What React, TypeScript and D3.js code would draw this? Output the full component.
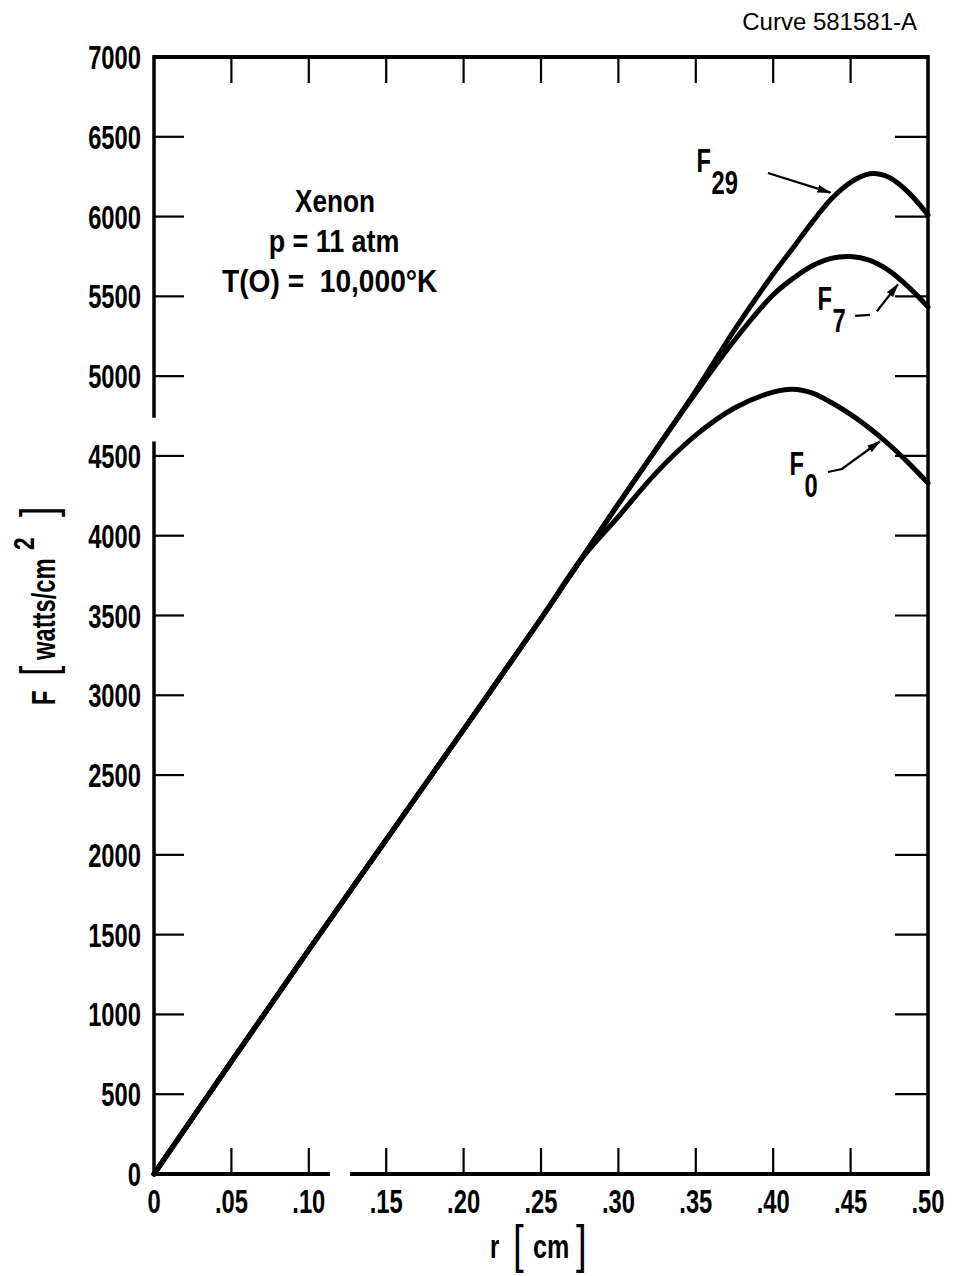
import React from "react";
import * as d3 from "d3";

// ---- data ----
const rShared = [0, 0.05, 0.1, 0.15, 0.2, 0.25, 0.275];
const FShared = [0, 705, 1405, 2095, 2785, 3480, 3840];

const rTail = [0.3, 0.325, 0.35, 0.375, 0.4, 0.4125, 0.425, 0.4375, 0.45, 0.4625, 0.475, 0.4875, 0.5];
const F0Tail = [4120, 4400, 4630, 4800, 4900, 4918, 4895, 4835, 4760, 4672, 4570, 4455, 4330];
const F7Tail = [4200, 4550, 4895, 5225, 5510, 5610, 5690, 5738, 5750, 5725, 5660, 5558, 5434];
const F29Tail = [4200, 4552, 4908, 5290, 5640, 5800, 5962, 6110, 6215, 6268, 6245, 6150, 6010];

const yTickValues = [0, 500, 1000, 1500, 2000, 2500, 3000, 3500, 4000, 4500, 5000, 5500, 6000, 6500, 7000];
const xTickValues = [0, 0.05, 0.1, 0.15, 0.2, 0.25, 0.3, 0.35, 0.4, 0.45, 0.5];
const xTickLabels = ["0", ".05", ".10", ".15", ".20", ".25", ".30", ".35", ".40", ".45", ".50"];

const infoLines = ["Xenon", "p = 11 atm", "T(O) =  10,000°K"];
const curveNote = "Curve 581581-A";

// axis breaks (data units)
const yBreak = [4590, 4740];
const xBreak = [0.1137, 0.1266];

// curve labels: [name, sub, r, F]
const curveLabels: [string, string, number, number][] = [
  ["F", "29", 0.3505, 6279],
  ["F", "7", 0.4286, 5414],
  ["F", "0", 0.4106, 4380],
];
// leader arrows (data coordinates), last point carries arrowhead
const arrows: [number, number][][] = [
  [[0.3966, 6273], [0.437, 6150]],
  [[0.467, 5407], [0.4806, 5575]],
  [[0.4354, 4399], [0.4444, 4418], [0.469, 4592]],
];
const dashes: [number, number][][] = [[[0.4529, 5378], [0.4625, 5384]]];

const W = 955;
const H = 1276;
const x = d3.scaleLinear().domain([0, 0.5]).range([154, 928]);
const y = d3.scaleLinear().domain([0, 7000]).range([1174, 57]);

const FONT = "'Liberation Sans', Arial, sans-serif";

function T({ px, py, size, sx = 0.72, anchor = "start", weight = 700, children }: any) {
  return (
    <text
      transform={`translate(${px},${py}) scale(${sx},1)`}
      fontSize={size}
      textAnchor={anchor}
      fontFamily={FONT}
      fontWeight={weight}
      fill="#000"
      style={{ whiteSpace: "pre" }}
    >
      {children}
    </text>
  );
}

export default function App() {
  const line = d3
    .line<[number, number]>()
    .x((d) => x(d[0]))
    .y((d) => y(d[1]))
    .curve(d3.curveCatmullRom.alpha(0.5));
  const straight = d3
    .line<[number, number]>()
    .x((d) => x(d[0]))
    .y((d) => y(d[1]));

  const build = (tail: number[]) => [
    ...rShared.map((r, i) => [r, FShared[i]] as [number, number]),
    ...rTail.map((r, i) => [r, tail[i]] as [number, number]),
  ];
  const series = [F0Tail, F7Tail, F29Tail].map(build);

  const x0 = x(0), x1 = x(0.5), y0 = y(0), y1 = y(7000);

  return (
    <svg
      width={W}
      height={H}
      style={{ position: "absolute", left: 0, top: 0, background: "#fff" }}
    >
      <defs>
        <marker id="ah" viewBox="0 0 14 8" refX="13" refY="4" markerWidth="14" markerHeight="8" markerUnits="userSpaceOnUse" orient="auto">
          <path d="M0,0 L14,4 L0,8 Z" fill="#000" />
        </marker>
      </defs>
      <rect x={0} y={0} width={W} height={H} fill="#fff" />

      {/* frame */}
      <line x1={x0} y1={y1} x2={x1} y2={y1} stroke="#000" strokeWidth={4} />
      <line x1={x1} y1={y1 - 2} x2={x1} y2={y0 + 2} stroke="#000" strokeWidth={3.5} />
      <line x1={x0} y1={y1 - 2} x2={x0} y2={y(yBreak[1])} stroke="#000" strokeWidth={3.5} />
      <line x1={x0} y1={y(yBreak[0])} x2={x0} y2={y0 + 2} stroke="#000" strokeWidth={3.5} />
      <line x1={x0 - 2} y1={y0} x2={x(xBreak[0])} y2={y0} stroke="#000" strokeWidth={4} />
      <line x1={x(xBreak[1])} y1={y0} x2={x1 + 2} y2={y0} stroke="#000" strokeWidth={4} />

      {/* ticks */}
      {yTickValues.filter((v) => v > 0 && v < 7000).map((v) => (
        <g key={"yt" + v}>
          <line x1={x0} x2={x0 + 30} y1={y(v)} y2={y(v)} stroke="#000" strokeWidth={2.2} />
          <line x1={x1 - 33} x2={x1} y1={y(v)} y2={y(v)} stroke="#000" strokeWidth={2.2} />
        </g>
      ))}
      {xTickValues.filter((v) => v > 0 && v < 0.5).map((v) => (
        <g key={"xt" + v}>
          <line x1={x(v)} x2={x(v)} y1={y0} y2={y0 - 26} stroke="#000" strokeWidth={2.2} />
          <line x1={x(v)} x2={x(v)} y1={y1} y2={y1 + 26} stroke="#000" strokeWidth={2.2} />
        </g>
      ))}

      {/* tick labels */}
      {yTickValues.map((v) => (
        <T key={"yl" + v} px={141} py={y(v) + 12} size={33} anchor="end">
          {String(v)}
        </T>
      ))}
      {xTickValues.map((v, i) => (
        <T key={"xl" + v} px={x(v)} py={1213} size={33} anchor="middle">
          {xTickLabels[i]}
        </T>
      ))}

      {/* curves */}
      {series.map((s, i) => (
        <path key={"c" + i} d={line(s) || ""} fill="none" stroke="#000" strokeWidth={5} strokeLinecap="round" />
      ))}

      {/* arrows */}
      {arrows.map((a, i) => (
        <path key={"a" + i} d={straight(a) || ""} fill="none" stroke="#000" strokeWidth={2.2} markerEnd="url(#ah)" />
      ))}
      {dashes.map((a, i) => (
        <path key={"d" + i} d={straight(a) || ""} fill="none" stroke="#000" strokeWidth={2.2} />
      ))}

      {/* curve labels */}
      {curveLabels.map(([n, s, r, f]) => (
        <g key={"cl" + s}>
          <T px={x(r)} py={y(f)} size={33}>{n}</T>
          <T px={x(r) + 15} py={y(f) + 22} size={33}>{s}</T>
        </g>
      ))}

      {/* info text */}
      <T px={335} py={212} size={32} sx={0.82} anchor="middle">{infoLines[0]}</T>
      <T px={334} py={252} size={32} sx={0.84} anchor="middle">{infoLines[1]}</T>
      <T px={222} py={292} size={32} sx={0.88}>{infoLines[2]}</T>

      {/* top-right note */}
      <T px={917} py={30} size={24} sx={1} weight={400} anchor="end">{curveNote}</T>

      {/* x-axis title */}
      <T px={490} py={1258} size={33}>r</T>
      <T px={513} py={1262} size={52} sx={0.74} weight={400}>[</T>
      <T px={533} py={1258} size={33} sx={0.76}>cm</T>
      <T px={576} py={1262} size={52} sx={0.74} weight={400}>]</T>

      {/* y-axis title */}
      <g transform="translate(55,705) rotate(-90)">
        <T px={0} py={0} size={33}>F</T>
        <T px={29} py={0} size={50} sx={0.74} weight={400}>[</T>
        <T px={45} py={0} size={33} sx={0.72}>watts/cm</T>
        <T px={155} py={-21} size={30} sx={0.76}>2</T>
        <T px={188} py={0} size={50} sx={0.74} weight={400}>]</T>
      </g>
    </svg>
  );
}
